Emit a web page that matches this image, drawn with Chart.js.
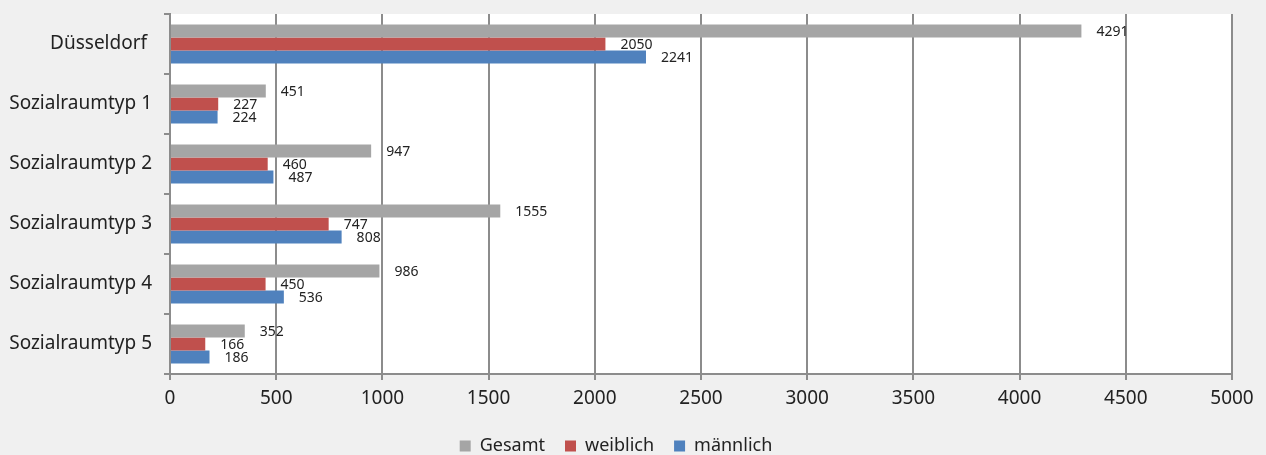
<html lang="de">
<head>
<meta charset="UTF-8">
<script src="https://cdn.jsdelivr.net/npm/chart.js"></script>
<title>Sozialraumtypen</title>
<style>
  body { margin: 0; background: #f0f0f0; }
</style>
</head>
<body>
<canvas id="myChart" width="1266" height="455"></canvas>
<script>
const categories = ['Düsseldorf ', 'Sozialraumtyp 1', 'Sozialraumtyp 2', 'Sozialraumtyp 3', 'Sozialraumtyp 4', 'Sozialraumtyp 5'];
const gesamt = [4291, 451, 947, 1555, 986, 352];
const weiblich = [2050, 227, 460, 747, 450, 166];
const maennlich = [2241, 224, 487, 808, 536, 186];
const xTicks = [0, 500, 1000, 1500, 2000, 2500, 3000, 3500, 4000, 4500, 5000];

const FONT = "'Noto Sans', sans-serif";

// white plot area
const plotBg = {
  id: 'plotBg',
  beforeDraw(chart) {
    const a = chart.chartArea, c = chart.ctx;
    c.save();
    c.fillStyle = '#ffffff';
    c.fillRect(a.left, a.top, a.right - a.left, a.bottom - a.top);
    c.restore();
  }
};

// value labels next to bars
const valueLabels = {
  id: 'valueLabels',
  afterDatasetsDraw(chart) {
    const c = chart.ctx;
    c.save();
    c.font = '14px ' + FONT;
    c.fillStyle = '#222';
    c.textAlign = 'left';
    c.textBaseline = 'middle';
    chart.data.datasets.forEach((ds, i) => {
      chart.getDatasetMeta(i).data.forEach((bar, j) => {
        c.fillText(ds.data[j], bar.x + 15, bar.y + 1);
      });
    });
    c.restore();
  }
};

new Chart(document.getElementById('myChart'), {
  type: 'bar',
  data: {
    labels: categories,
    datasets: [
      { label: 'Gesamt', data: gesamt, backgroundColor: '#a5a5a5' },
      { label: 'weiblich', data: weiblich, backgroundColor: '#c0504d' },
      { label: 'männlich', data: maennlich, backgroundColor: '#4f81bd' }
    ]
  },
  options: {
    indexAxis: 'y',
    responsive: false,
    animation: false,
    categoryPercentage: 0.65,
    barPercentage: 1.0,
    layout: { padding: { top: 14, right: 34, left: 0, bottom: -10 } },
    scales: {
      x: {
        min: 0, max: 5000,
        afterBuildTicks(scale) { scale.ticks = xTicks.map(v => ({ value: v })); },
        grid: { color: '#8c8c8c', lineWidth: 2, tickLength: 6, tickColor: '#8c8c8c' },
        border: { color: '#8c8c8c', width: 2 },
        ticks: { font: { family: FONT, size: 19 }, color: '#222', padding: 7, callback: v => String(v) },
        afterFit(scale) { scale.height = 43; }
      },
      y: {
        grid: { drawOnChartArea: false, tickLength: 6, color: '#8c8c8c', lineWidth: 2, offset: true },
        border: { color: '#8c8c8c', width: 2 },
        ticks: { font: { family: FONT, size: 19 }, color: '#222', padding: 12 },
        afterFit(scale) {
          scale.width = 170;
          scale.paddingTop = 0;
          scale.paddingBottom = 0;
        }
      }
    },
    plugins: {
      legend: {
        position: 'bottom',
        labels: {
          font: { family: FONT, size: 18 },
          color: '#222',
          boxWidth: 11, boxHeight: 11,
          padding: 20
        }
      },
      tooltip: { enabled: false }
    }
  },
  plugins: [plotBg, valueLabels]
});
</script>
</body>
</html>
